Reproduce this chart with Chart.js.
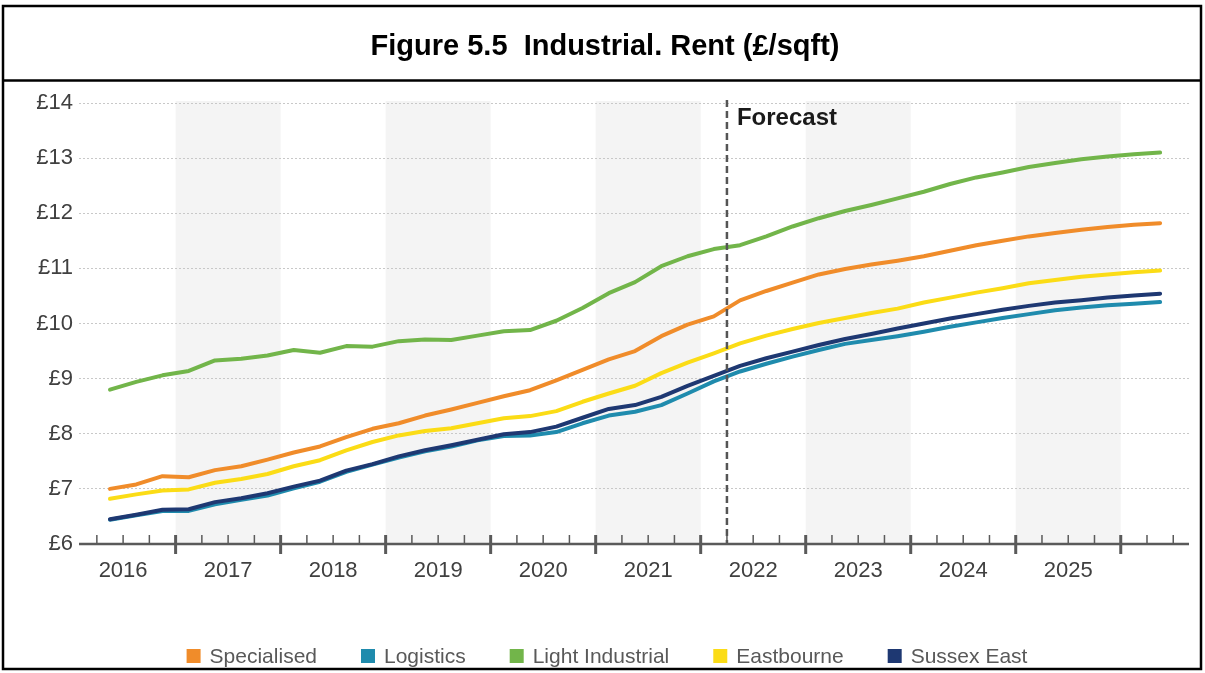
<!DOCTYPE html>
<html>
<head>
<meta charset="utf-8">
<title>Figure 5.5 Industrial. Rent (£/sqft)</title>
<script src="https://cdn.jsdelivr.net/npm/chart.js@4.4.1/dist/chart.umd.min.js"></script>
<style>
  html, body { margin: 0; padding: 0; background: #fff; }
  #wrap { width: 1205px; height: 673px; }
</style>
</head>
<body>
<div id="wrap"><canvas id="rentChart" width="1205" height="673"></canvas></div>
<script>
// quarterly series, 2016 Q2 .. 2026 Q2
const years = ['2016', '2017', '2018', '2019', '2020', '2021', '2022', '2023', '2024', '2025'];
const startYear = 2016;
const startQuarter = 2;          // first point is Q2 2016
const forecastYear = 2022;
const forecastQuarter = 2;       // forecast begins at 2022 Q2
const shadedYears = [2017, 2019, 2021, 2023, 2025];

const specialised = [7.00, 7.08, 7.23, 7.21, 7.34, 7.41, 7.53, 7.66, 7.77, 7.94,
  8.09, 8.19, 8.33, 8.44, 8.56, 8.68, 8.79, 8.97, 9.16, 9.35,
  9.50, 9.77, 9.98, 10.13, 10.42, 10.59, 10.74, 10.89, 10.99, 11.07,
  11.14, 11.22, 11.32, 11.42, 11.50, 11.58, 11.64, 11.70, 11.75, 11.79, 11.82];
const logistics = [6.44, 6.52, 6.60, 6.60, 6.72, 6.80, 6.88, 7.01, 7.13, 7.31,
  7.44, 7.57, 7.68, 7.77, 7.88, 7.96, 7.97, 8.03, 8.19, 8.33,
  8.40, 8.52, 8.73, 8.95, 9.13, 9.27, 9.40, 9.52, 9.63, 9.70,
  9.77, 9.85, 9.94, 10.02, 10.10, 10.17, 10.24, 10.29, 10.33, 10.36, 10.39];
const lightIndustrial = [8.80, 8.94, 9.06, 9.14, 9.33, 9.36, 9.42, 9.52, 9.47, 9.59,
  9.58, 9.68, 9.71, 9.70, 9.78, 9.86, 9.88, 10.05, 10.28, 10.55,
  10.75, 11.04, 11.22, 11.35, 11.42, 11.58, 11.76, 11.91, 12.04, 12.15,
  12.27, 12.39, 12.53, 12.65, 12.74, 12.84, 12.91, 12.98, 13.03, 13.07, 13.10];
const eastbourne = [6.82, 6.90, 6.97, 6.99, 7.11, 7.18, 7.27, 7.41, 7.52, 7.70,
  7.85, 7.97, 8.05, 8.10, 8.19, 8.28, 8.32, 8.41, 8.58, 8.73,
  8.87, 9.10, 9.29, 9.46, 9.64, 9.78, 9.90, 10.01, 10.10, 10.19,
  10.27, 10.38, 10.47, 10.56, 10.64, 10.73, 10.79, 10.85, 10.89, 10.93, 10.96];
const sussexEast = [6.45, 6.53, 6.62, 6.63, 6.76, 6.83, 6.92, 7.04, 7.15, 7.33,
  7.45, 7.59, 7.70, 7.79, 7.89, 7.99, 8.03, 8.13, 8.29, 8.45,
  8.52, 8.67, 8.87, 9.05, 9.23, 9.37, 9.49, 9.61, 9.72, 9.81,
  9.91, 10.00, 10.09, 10.17, 10.25, 10.32, 10.38, 10.42, 10.47, 10.51, 10.54];

const FONT = '"Liberation Sans", Arial, sans-serif';
Chart.defaults.font.family = FONT;

// x is measured in quarters from the start of 2016, points sit mid-quarter
const toPoints = vals => vals.map((v, i) => ({ x: startQuarter - 1 + i + 0.5, y: v }));
const forecastX = (forecastYear - startYear) * 4 + forecastQuarter - 1;

function line(label, vals, color, order) {
  return {
    label, data: toPoints(vals), borderColor: color, backgroundColor: color,
    borderWidth: 4, pointRadius: 0, tension: 0, order,
    borderJoinStyle: 'round', borderCapStyle: 'round'
  };
}

const decor = {
  id: 'decor',
  beforeDraw(chart) {
    const { ctx, chartArea: a, scales: { x } } = chart;
    ctx.save();
    ctx.fillStyle = '#fff';
    ctx.fillRect(0, 0, chart.width, chart.height);
    ctx.fillStyle = '#f4f4f4';
    shadedYears.forEach(yr => {
      const q0 = (yr - startYear) * 4;
      const x0 = x.getPixelForValue(q0), x1 = x.getPixelForValue(q0 + 4);
      ctx.fillRect(x0, a.top - 2, x1 - x0, a.bottom - a.top + 2);
    });
    ctx.restore();
  },
  afterDatasetsDraw(chart) {
    const { ctx, chartArea: a, scales: { x } } = chart;
    ctx.save();
    // forecast divider
    const fx = x.getPixelForValue(forecastX);
    ctx.strokeStyle = '#555';
    ctx.lineWidth = 2.5;
    ctx.setLineDash([7, 4]);
    ctx.beginPath();
    ctx.moveTo(fx, a.top - 3);
    ctx.lineTo(fx, a.bottom);
    ctx.stroke();
    ctx.setLineDash([]);
    ctx.fillStyle = '#1a1a1a';
    ctx.font = 'bold 24px ' + FONT;
    ctx.textBaseline = 'middle';
    ctx.fillText('Forecast', fx + 10, a.top + 15);

    // x axis with quarter ticks
    ctx.strokeStyle = '#5a5a5a';
    ctx.lineWidth = 2.5;
    ctx.beginPath();
    ctx.moveTo(a.left, a.bottom);
    ctx.lineTo(a.right, a.bottom);
    ctx.stroke();
    for (let q = Math.ceil(x.min); q <= Math.floor(x.max); q++) {
      const px = x.getPixelForValue(q);
      const major = q % 4 === 0;
      ctx.lineWidth = major ? 3 : 1.5;
      ctx.beginPath();
      ctx.moveTo(px, a.bottom - 9);
      ctx.lineTo(px, major ? a.bottom + 10 : a.bottom);
      ctx.stroke();
    }
    ctx.restore();
  },
  afterDraw(chart) {
    const { ctx } = chart;
    ctx.save();
    // frame and title
    ctx.strokeStyle = '#000';
    ctx.lineWidth = 2.5;
    ctx.strokeRect(3, 6, 1198, 663);
    ctx.beginPath();
    ctx.moveTo(3, 80.5);
    ctx.lineTo(1201, 80.5);
    ctx.stroke();
    ctx.fillStyle = '#000';
    ctx.font = 'bold 29px ' + FONT;
    ctx.textAlign = 'center';
    ctx.textBaseline = 'middle';
    ctx.fillText('Figure 5.5  Industrial. Rent (£/sqft)', 605, 47);

    // legend
    ctx.font = '21px ' + FONT;
    ctx.textAlign = 'left';
    const items = chart.data.datasets.map(d => ({ label: d.label, color: d.borderColor, w: ctx.measureText(d.label).width }));
    const box = 14, textGap = 9, gap = 44;
    const total = items.reduce((s, it) => s + box + textGap + it.w, 0) + gap * (items.length - 1);
    let lx = 607 - total / 2;
    const ly = 656;
    items.forEach(it => {
      ctx.fillStyle = it.color;
      ctx.fillRect(lx, ly - 7, box, box);
      ctx.fillStyle = '#595959';
      ctx.fillText(it.label, lx + box + textGap, ly + 1);
      lx += box + textGap + it.w + gap;
    });
    ctx.restore();
  }
};

new Chart(document.getElementById('rentChart'), {
  type: 'line',
  data: {
    datasets: [
      line('Specialised', specialised, '#f08c2a', 1),
      line('Logistics', logistics, '#1f8bad', 1),
      line('Light Industrial', lightIndustrial, '#72b54a', 1),
      line('Eastbourne', eastbourne, '#fbdc16', 1),
      line('Sussex East', sussexEast, '#1e3872', 0)
    ]
  },
  options: {
    responsive: false,
    animation: false,
    layout: { padding: { top: 103, left: 0, right: 16, bottom: 89 } },
    plugins: { legend: { display: false }, title: { display: false }, tooltip: { enabled: false } },
    scales: {
      x: {
        type: 'linear',
        min: 0.32,
        max: 42.6,
        afterFit: s => { s.height = 40; },
        afterBuildTicks: s => { s.ticks = years.map((_, i) => ({ value: i * 4 + 2 })); },
        grid: { display: false, drawTicks: false },
        border: { display: false },
        ticks: {
          autoSkip: false, maxRotation: 0, padding: 14,
          color: '#404040', font: { size: 22 },
          callback: v => years[Math.round((v - 2) / 4)]
        }
      },
      y: {
        min: 6,
        max: 14,
        afterFit: s => { s.width = 79; },
        grid: {
          drawTicks: false, lineWidth: 1,
          color: c => c.tick && c.tick.value === 6 ? 'rgba(0,0,0,0)' : '#c8c8c8'
        },
        border: { display: false, dash: [2, 2] },
        ticks: {
          stepSize: 1, padding: 6,
          color: '#404040', font: { size: 22 },
          callback: v => '£' + v
        }
      }
    }
  },
  plugins: [decor]
});
</script>
</body>
</html>
